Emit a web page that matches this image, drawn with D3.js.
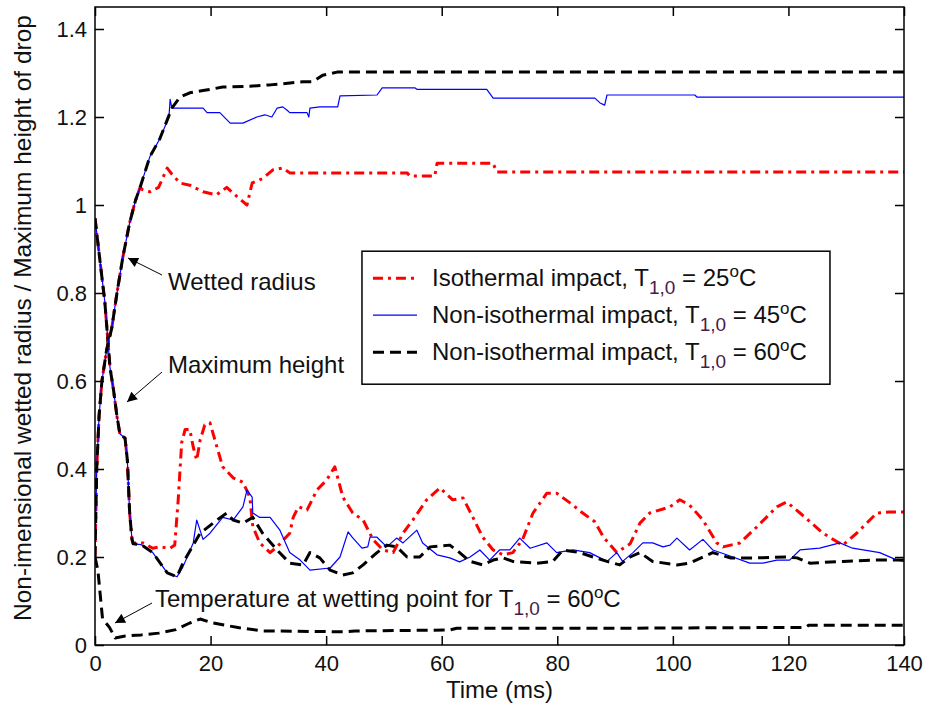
<!DOCTYPE html>
<html>
<head>
  <meta charset="utf-8">
  <style>
    body { margin: 0; background: #fff; }
    text { font-family: "Liberation Sans", Arial, sans-serif; fill: #111; }
  </style>
</head>
<body>
<svg id="chart" width="930" height="715"></svg>
<script src="https://cdn.jsdelivr.net/npm/d3@7/dist/d3.min.js"></script>
<script>
// ---- data: [time (ms), value] ----
var radiusStart = [[0,0.2],[0.3,0.4],[0.7,0.52],[1.2,0.6],[2,0.67],[2.9,0.72],[3.8,0.8],[4.8,0.88],[6,0.96],[7,1.01],[7.8,1.04]];
var heightStart = [[0,0.97],[0.8,0.88],[1.7,0.78],[2.6,0.63],[3.2,0.58],[3.8,0.52],[4.3,0.48],[5.2,0.47],[5.6,0.42],[6,0.3],[6.4,0.24]];

var isoRadius = radiusStart.concat([[8.2,1.035],[9.5,1.03],[11,1.04],[12.5,1.084],[13.3,1.07],[14.7,1.05],[16.4,1.045],[18.7,1.03],[21,1.023],[22.8,1.04],[24.5,1.02],[26.3,1.0],[27.2,1.05],[29,1.06],[30.8,1.08],[32.5,1.084],[33.7,1.073],[54,1.073],[54.5,1.066],[58.8,1.066],[59.2,1.095],[68.9,1.095],[69.5,1.075],[140,1.075]]);

var non45Radius = radiusStart.concat([[9.5,1.11],[11.2,1.15],[12.8,1.2],[13,1.24],[13.3,1.22],[18.7,1.22],[19.4,1.21],[21.6,1.21],[23.4,1.186],[25.6,1.186],[28,1.2],[29.4,1.205],[30.6,1.2],[31.5,1.22],[32.5,1.223],[33.2,1.216],[33.7,1.21],[36.7,1.21],[37,1.2],[37.2,1.22],[38.9,1.223],[42,1.223],[42.4,1.248],[48.8,1.25],[49.7,1.266],[55.4,1.266],[55.7,1.263],[67.8,1.263],[68.9,1.243],[86.5,1.243],[87.4,1.232],[88.2,1.227],[88.6,1.25],[103.8,1.25],[104.2,1.245],[140,1.245]]);

var non60Radius = radiusStart.concat([[9.5,1.11],[11.2,1.15],[13.3,1.22],[14.7,1.245],[16.4,1.255],[18.7,1.26],[22.1,1.268],[26.8,1.27],[30.3,1.273],[36,1.28],[37.7,1.28],[39.4,1.295],[41.9,1.302],[140,1.302]]);

var isoHeight = heightStart.concat([[6.6,0.232],[8.3,0.232],[10,0.22],[11.2,0.223],[13,0.22],[13.8,0.227],[14.4,0.33],[15,0.46],[15.6,0.49],[16.4,0.49],[17,0.45],[17.6,0.42],[18.2,0.466],[19,0.5],[19.9,0.505],[21.1,0.45],[22.1,0.405],[23.9,0.38],[25.6,0.37],[26.8,0.336],[27.3,0.27],[28.5,0.232],[30.3,0.21],[31.5,0.223],[33.7,0.254],[34.3,0.29],[35.2,0.314],[36.7,0.307],[38.4,0.352],[40.1,0.375],[41.5,0.405],[42.9,0.336],[44.6,0.3],[46.4,0.284],[48.1,0.24],[49.8,0.216],[51.6,0.21],[53.3,0.254],[55,0.284],[57.4,0.33],[59.7,0.357],[61.9,0.33],[63.7,0.334],[65.4,0.29],[67.1,0.245],[68.9,0.216],[70.6,0.205],[72.3,0.21],[74,0.24],[75.8,0.3],[78.2,0.345],[79.9,0.345],[82.2,0.323],[84.4,0.3],[86.5,0.28],[88,0.245],[90.3,0.21],[92.6,0.23],[94.3,0.277],[96,0.3],[99.5,0.314],[101.2,0.33],[102.9,0.318],[105.2,0.284],[107.6,0.232],[108.7,0.223],[111.6,0.232],[114.5,0.268],[118,0.314],[119.7,0.325],[122,0.3],[126,0.254],[129.4,0.227],[131.8,0.254],[135.3,0.3],[137.5,0.302],[140,0.302]]);

var non45Height = heightStart.concat([[6.6,0.23],[8,0.228],[10,0.21],[12.5,0.164],[14.2,0.155],[15.2,0.177],[17,0.232],[17.6,0.284],[18.7,0.24],[19.9,0.254],[22.1,0.29],[23.9,0.284],[25.6,0.314],[26.3,0.352],[27.2,0.336],[27.3,0.3],[28.5,0.29],[30.3,0.29],[32,0.261],[33.7,0.21],[35.5,0.193],[37.2,0.17],[40.7,0.175],[42.4,0.2],[43.8,0.257],[44.5,0.245],[46.2,0.22],[47.2,0.223],[47.6,0.245],[48.8,0.245],[50.5,0.223],[52.2,0.243],[53.3,0.232],[55.7,0.261],[56.7,0.232],[59.2,0.205],[61.4,0.198],[63.1,0.189],[64.9,0.2],[66.6,0.216],[68.3,0.193],[70,0.216],[71.8,0.216],[73.5,0.243],[75.3,0.22],[78.2,0.232],[79.9,0.21],[82.7,0.216],[85.6,0.21],[88.6,0.19],[90.3,0.21],[91.3,0.19],[93.1,0.21],[94.8,0.232],[96.5,0.232],[98.3,0.223],[99.5,0.227],[100.7,0.243],[102.9,0.216],[105.2,0.24],[106.9,0.216],[109.3,0.205],[113.3,0.186],[115.6,0.186],[118,0.193],[120.2,0.193],[122,0.216],[125.4,0.22],[128.9,0.232],[131.1,0.22],[135.8,0.21],[138.8,0.193],[140,0.19]]);

var non60Height = heightStart.concat([[6.6,0.23],[8,0.228],[10,0.21],[12.5,0.164],[14.2,0.155],[15.2,0.186],[18.2,0.254],[21.1,0.284],[22.8,0.3],[23.9,0.284],[25.6,0.277],[27.3,0.29],[29,0.254],[31.5,0.216],[33.7,0.186],[36,0.182],[37.2,0.21],[38.9,0.198],[40.7,0.17],[42.9,0.159],[44.6,0.164],[46.4,0.182],[48.8,0.21],[50.5,0.227],[52.2,0.223],[54,0.2],[56.2,0.2],[58,0.223],[61.4,0.227],[63.1,0.21],[64.9,0.19],[67.1,0.182],[68.9,0.193],[70.6,0.198],[72.3,0.19],[76.5,0.186],[79.2,0.19],[81,0.216],[83.9,0.21],[86.2,0.2],[88.6,0.19],[90.8,0.182],[92.6,0.2],[94.3,0.21],[96.5,0.19],[100.7,0.182],[102.9,0.186],[105.2,0.2],[106.9,0.21],[109.9,0.198],[114.5,0.198],[119.7,0.2],[121.5,0.198],[123.7,0.186],[129.4,0.19],[135.3,0.193],[140,0.193]]);

var non60Temp = [[0,0.2],[0.5,0.17],[1.3,0.06],[2.5,0.04],[3.5,0.016],[5,0.02],[8,0.023],[11,0.027],[14,0.035],[16.4,0.05],[18.2,0.059],[20.4,0.05],[25,0.039],[29,0.032],[43,0.03],[45,0.032],[61.4,0.034],[62.6,0.038],[88.6,0.038],[123,0.04],[123.5,0.045],[140,0.045]];

var xTicks = [0, 20, 40, 60, 80, 100, 120, 140];
var yTicks = [0, 0.2, 0.4, 0.6, 0.8, 1, 1.2, 1.4];
var legendNames = ["Isothermal impact, T", "Non-isothermal impact, T", "Non-isothermal impact, T"];
var legendTemps = ["25", "45", "60"];

// ---- layout ----
var margin = {top: 7, right: 26, bottom: 70, left: 95},
    width = 930 - margin.left - margin.right,
    height = 715 - margin.top - margin.bottom;

var x = d3.scaleLinear().domain([0, 140]).range([0, width]);
var y = d3.scaleLinear().domain([0, 1.45]).range([height, 0]);

var svg = d3.select("#chart")
  .append("g")
    .attr("transform", "translate(" + margin.left + "," + margin.top + ")");

var styles = {
  iso:   {color: "#ff0000", width: 3,   dash: "10,5,3,5"},
  non45: {color: "#0000ff", width: 1.2, dash: null},
  non60: {color: "#000000", width: 3,   dash: "11,6"}
};

var line = d3.line()
    .x(function(d) { return x(d[0]); })
    .y(function(d) { return y(d[1]); });

var series = [
  {data: isoHeight, s: styles.iso},
  {data: non45Height, s: styles.non45},
  {data: non60Height, s: styles.non60},
  {data: isoRadius, s: styles.iso},
  {data: non45Radius, s: styles.non45},
  {data: non60Radius, s: styles.non60},
  {data: non60Temp, s: styles.non60}
];

svg.append("defs").append("clipPath").attr("id", "clip")
  .append("rect").attr("width", width).attr("height", height);

svg.append("g").attr("clip-path", "url(#clip)")
  .selectAll("path")
  .data(series)
  .enter()
  .append("path")
    .attr("d", function(d) { return line(d.data); })
    .attr("fill", "none")
    .attr("stroke", function(d) { return d.s.color; })
    .attr("stroke-width", function(d) { return d.s.width; })
    .attr("stroke-dasharray", function(d) { return d.s.dash; })
    .attr("stroke-linejoin", "round");

// ---- axes (MATLAB style box, ticks inward) ----
var fmt = function(d) { return d3.format("")(+d.toFixed(1)); };

svg.append("g")
    .attr("transform", "translate(0," + height + ")")
    .call(d3.axisBottom(x).tickValues(xTicks).tickSizeInner(-9).tickSizeOuter(0).tickPadding(10))
    .call(function(g) { g.select(".domain").remove(); });
svg.append("g")
    .call(d3.axisTop(x).tickValues(xTicks).tickSizeInner(-9).tickSizeOuter(0).tickFormat(""))
    .call(function(g) { g.select(".domain").remove(); });
svg.append("g")
    .call(d3.axisLeft(y).tickValues(yTicks).tickSizeInner(-9).tickSizeOuter(0).tickPadding(8).tickFormat(fmt))
    .call(function(g) { g.select(".domain").remove(); });
svg.append("g")
    .attr("transform", "translate(" + width + ",0)")
    .call(d3.axisRight(y).tickValues(yTicks).tickSizeInner(-9).tickSizeOuter(0).tickFormat(""))
    .call(function(g) { g.select(".domain").remove(); });

svg.selectAll(".tick line").attr("stroke", "#000").attr("stroke-width", 1.5);
svg.selectAll(".tick text").style("font-size", "22px").style("fill", "#111");

svg.append("rect")
    .attr("width", width)
    .attr("height", height)
    .attr("fill", "none")
    .attr("stroke", "#000")
    .attr("stroke-width", 1.5);

// axis titles
svg.append("text")
    .attr("x", width / 2)
    .attr("y", height + 53)
    .attr("text-anchor", "middle")
    .style("font-size", "24px")
    .text("Time (ms)");

svg.append("text")
    .attr("transform", "translate(-64," + (height / 2 - 8) + ") rotate(-90)")
    .attr("text-anchor", "middle")
    .style("font-size", "24.5px")
    .text("Non-imensional wetted radius / Maximum height of drop");

// ---- legend ----
var legend = svg.append("g").attr("transform", "translate(" + (x(46.2)) + "," + (y(0.895)) + ")");
legend.append("rect")
    .attr("width", 468)
    .attr("height", 133)
    .attr("fill", "#fff")
    .attr("stroke", "#000")
    .attr("stroke-width", 1.5);

var keys = [styles.iso, styles.non45, styles.non60];
var item = legend.selectAll(".legend")
    .data(keys)
    .enter()
    .append("g")
      .attr("class", "legend")
      .attr("transform", function(d, i) { return "translate(0," + (27 + i * 37) + ")"; });

item.append("line")
    .attr("x1", 11).attr("x2", 55)
    .attr("stroke", function(d) { return d.color; })
    .attr("stroke-width", function(d) { return d.width; })
    .attr("stroke-dasharray", function(d) { return d.dash; });

var lt = item.append("text")
    .attr("x", 70)
    .attr("y", 8)
    .style("font-size", "24px");
lt.append("tspan").text(function(d, i) { return legendNames[i]; });
lt.append("tspan").attr("dy", 8).style("font-size", "19px").style("fill", "#4a1a4a").text("1,0");
lt.append("tspan").attr("dy", -8).text(function(d, i) { return " = " + legendTemps[i]; });
lt.append("tspan").attr("dy", -9).style("font-size", "17px").text("o");
lt.append("tspan").attr("dy", 9).text("C");

// ---- annotations ----
svg.append("defs").append("marker")
    .attr("id", "arrow")
    .attr("viewBox", "0 0 10 10")
    .attr("refX", 10).attr("refY", 5)
    .attr("markerWidth", 14).attr("markerHeight", 10)
    .attr("markerUnits", "userSpaceOnUse")
    .attr("orient", "auto")
  .append("path")
    .attr("d", "M0,0 L10,5 L0,10 z")
    .attr("fill", "#000");

var notes = [
  {text: "Wetted radius", tx: 73, ty: 283, x1: 67, y1: 268, x2: 33, y2: 251},
  {text: "Maximum height", tx: 73, ty: 366, x1: 67, y1: 365, x2: 32, y2: 395},
  {text: "Temperature at wetting point for T", tx: 60, ty: 600, x1: 57, y1: 596, x2: 20, y2: 616, sub: true}
];

notes.forEach(function(n) {
  svg.append("line")
      .attr("x1", n.x1).attr("y1", n.y1)
      .attr("x2", n.x2).attr("y2", n.y2)
      .attr("stroke", "#000")
      .attr("stroke-width", 1)
      .attr("marker-end", "url(#arrow)");
  var t = svg.append("text")
      .attr("x", n.tx).attr("y", n.ty)
      .style("font-size", "24px");
  t.append("tspan").text(n.text);
  if (n.sub) {
    t.append("tspan").attr("dy", 8).style("font-size", "19px").style("fill", "#4a1a4a").text("1,0");
    t.append("tspan").attr("dy", -8).text(" = 60");
    t.append("tspan").attr("dy", -9).style("font-size", "17px").text("o");
    t.append("tspan").attr("dy", 9).text("C");
  }
});
</script>
</body>
</html>
